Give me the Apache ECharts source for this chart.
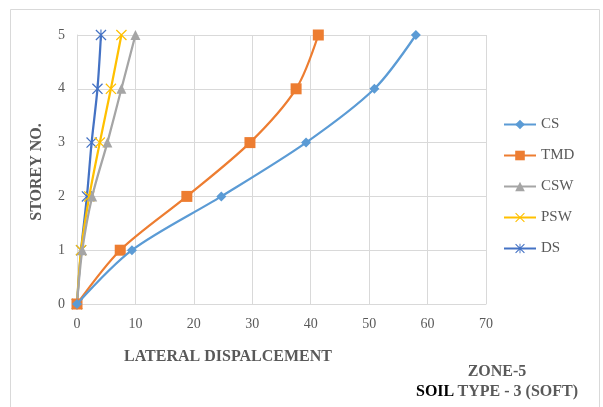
<!DOCTYPE html>
<html><head><meta charset="utf-8">
<script src="https://cdn.jsdelivr.net/npm/echarts@6/dist/echarts.min.js"></script>
<style>html,body{margin:0;padding:0;background:#fff}#c{width:603px;height:407px}</style>
</head><body><div id="c"></div>
<script>
const storeys = [0, 1, 2, 3, 4, 5];
const CS  = [0, 9.4, 24.7, 39.2, 50.9, 58.0];
const TMD = [0, 7.4, 18.8, 29.6, 37.5, 41.3];
const CSW = [0, 0.9, 2.6, 5.2, 7.6, 10.0];
const PSW = [0, 0.7, 2.1, 3.9, 5.8, 7.6];
const DS  = [0, 0.7, 1.7, 2.5, 3.5, 4.1];
const seriesNames = ['CS', 'TMD', 'CSW', 'PSW', 'DS'];
const seriesData = [CS, TMD, CSW, PSW, DS];
const colors = ['#5B9BD5', '#ED7D31', '#A5A5A5', '#FFC000', '#4472C4'];

const xPath = 'path://M0,0.8 L0.8,0 L5,4.2 L9.2,0 L10,0.8 L5.8,5 L10,9.2 L9.2,10 L5,5.8 L0.8,10 L0,9.2 L4.2,5 Z';
const starPath = 'path://M0,0.8 L0.8,0 L4.5,3.7 L4.5,0 L5.5,0 L5.5,3.7 L9.2,0 L10,0.8 L5.8,5 L10,9.2 L9.2,10 L5.5,6.3 L5.5,10 L4.5,10 L4.5,6.3 L0.8,10 L0,9.2 L4.2,5 Z';
const symbols = ['diamond', 'rect', 'triangle', xPath, starPath];
const sizes = [10, 11, 10, 11, 11];
const font = '"Liberation Serif", "Times New Roman", serif';

const chart = echarts.init(document.getElementById('c'));
chart.setOption({
  animation: false,
  backgroundColor: '#fff',
  color: colors,
  grid: {left: 77, right: 117, top: 35, bottom: 103},
  xAxis: {
    type: 'value', min: 0, max: 70, interval: 10,
    axisLine: {show: true, lineStyle: {color: '#d9d9d9'}},
    axisTick: {show: false},
    splitLine: {show: true, lineStyle: {color: '#d9d9d9', width: 1}},
    axisLabel: {color: '#595959', fontFamily: font, fontSize: 14, margin: 13}
  },
  yAxis: {
    type: 'value', min: 0, max: 5, interval: 1,
    axisLine: {show: true, lineStyle: {color: '#d9d9d9'}},
    axisTick: {show: false},
    splitLine: {show: true, lineStyle: {color: '#d9d9d9', width: 1}},
    axisLabel: {color: '#595959', fontFamily: font, fontSize: 14, margin: 12}
  },
  legend: {
    orient: 'vertical', left: 498, top: 112, itemGap: 16,
    itemWidth: 32, itemHeight: 12,
    textStyle: {color: '#595959', fontFamily: font, fontSize: 15},
    data: seriesNames
  },
  graphic: [
    {type: 'rect', shape: {x: 10.5, y: 9.5, width: 589, height: 420}, style: {fill: 'none', stroke: '#d9d9d9', lineWidth: 1}, z: -1},
    {type: 'text', style: {text: 'STOREY NO.', fill: '#595959', font: 'bold 16px ' + font, textAlign: 'center', textVerticalAlign: 'middle'}, x: 37, y: 172, rotation: Math.PI / 2},
    {type: 'text', style: {text: 'LATERAL DISPALCEMENT', fill: '#595959', font: 'bold 16px ' + font, textAlign: 'center', textVerticalAlign: 'middle'}, x: 228, y: 357},
    {type: 'text', style: {text: 'ZONE-5', fill: '#595959', font: 'bold 16px ' + font, textAlign: 'center', textVerticalAlign: 'middle'}, x: 497, y: 372},
    {type: 'text', style: {
      text: '{a|SOIL} {b|TYPE - 3 (SOFT)}', textAlign: 'center', textVerticalAlign: 'middle',
      rich: {a: {fill: '#000', font: 'bold 16px ' + font}, b: {fill: '#595959', font: 'bold 16px ' + font}}
    }, x: 497, y: 392}
  ],
  series: seriesNames.map((n, i) => ({
    name: n, type: 'line', smooth: 0.3,
    data: seriesData[i].map((v, k) => [v, storeys[k]]),
    symbol: symbols[i], symbolSize: sizes[i], showSymbol: true,
    lineStyle: {width: 2.25, color: colors[i]},
    itemStyle: {color: colors[i]},
    z: 10 - i
  }))
});
</script>
</body></html>
